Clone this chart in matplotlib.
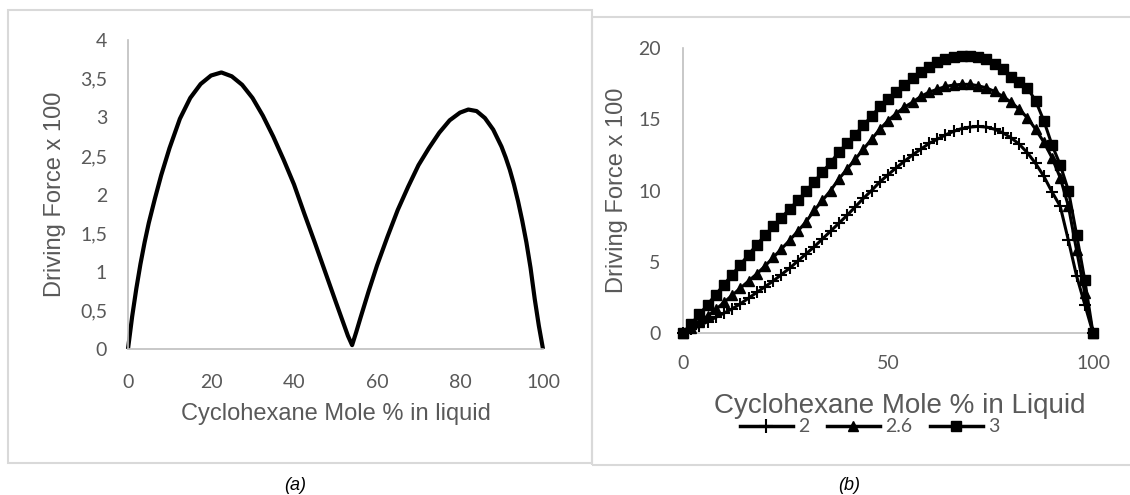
import matplotlib.pyplot as plt
from matplotlib.patches import Rectangle
from matplotlib.lines import Line2D

# panel (a) - single driving force curve
xa = [0, 1, 2, 3, 4, 5, 6.5, 8, 10, 12.5, 15, 17.5, 20, 22.5, 25, 27.5, 30, 32.5, 35,
      37.5, 40, 42.5, 45, 47.5, 50, 52, 53, 54, 55, 56, 58, 60, 62.5, 65, 67.5, 70,
      72.5, 75, 77.5, 80, 82, 84, 86, 88, 90, 91, 92, 93, 94, 95, 96, 97, 98, 99, 100]
ya = [0, 0.42, 0.78, 1.1, 1.38, 1.63, 1.95, 2.25, 2.6, 2.98, 3.25, 3.43, 3.54, 3.58, 3.53,
      3.42, 3.25, 3.02, 2.75, 2.45, 2.13, 1.75, 1.38, 1.0, 0.62, 0.32, 0.17, 0.05, 0.22,
      0.4, 0.75, 1.08, 1.45, 1.8, 2.1, 2.38, 2.6, 2.8, 2.96, 3.06, 3.1, 3.08, 2.99, 2.84,
      2.62, 2.48, 2.32, 2.13, 1.91, 1.66, 1.38, 1.05, 0.65, 0.3, 0]

# panel (b) - three series
xb = list(range(0, 101, 2))
y_2 = [0, 0.25, 0.5, 0.8, 1.1, 1.4, 1.7, 2.05, 2.45, 2.85, 3.25, 3.65, 4.1, 4.55, 5.05,
       5.55, 6.05, 6.6, 7.15, 7.7, 8.25, 8.85, 9.45, 10.0, 10.6, 11.1, 11.6, 12.05, 12.5,
       12.9, 13.3, 13.6, 13.9, 14.15, 14.35, 14.45, 14.5, 14.45, 14.3, 14.05, 13.7, 13.25,
       12.65, 11.9, 11.0, 9.9, 8.9, 6.5, 4.0, 2.0, 0]
y_26 = [0, 0.35, 0.75, 1.2, 1.65, 2.15, 2.65, 3.15, 3.65, 4.15, 4.7, 5.3, 5.9, 6.5, 7.15,
        7.8, 8.6, 9.3, 10.0, 10.8, 11.5, 12.2, 12.9, 13.6, 14.3, 14.9, 15.4, 15.85, 16.2,
        16.6, 16.9, 17.1, 17.3, 17.4, 17.45, 17.45, 17.35, 17.2, 16.95, 16.6, 16.2, 15.7,
        15.1, 14.3, 13.4, 12.3, 10.9, 8.9, 5.8, 2.8, 0]
y_3 = [0, 0.65, 1.3, 2.0, 2.7, 3.4, 4.1, 4.8, 5.5, 6.2, 6.85, 7.5, 8.1, 8.7, 9.3, 9.95,
       10.6, 11.3, 11.95, 12.7, 13.3, 13.9, 14.6, 15.2, 15.9, 16.4, 16.9, 17.4, 17.9, 18.3,
       18.7, 19.0, 19.2, 19.35, 19.45, 19.45, 19.4, 19.2, 18.9, 18.5, 18.0, 17.6, 17.2,
       16.3, 14.9, 13.2, 11.8, 10.0, 6.9, 3.7, 0]
etiquetas = ["2", "2.6", "3"]

gris = "#595959"
eje = "#BFBFBF"
W, H = 1130, 495

fig = plt.figure(figsize=(W / 100, H / 100), dpi=100)

# marcos de cada panel
fig.patches.append(Rectangle((8 / W, 1 - 463 / H), 584 / W, 453 / H, transform=fig.transFigure,
                             fill=False, edgecolor="#D9D9D9", lw=1.5))
fig.patches.append(Rectangle((592 / W, 1 - 465 / H), 545 / W, 448 / H, transform=fig.transFigure,
                             fill=False, edgecolor="#D9D9D9", lw=1.5))


def estilo(ax):
    for s in ["top", "right"]:
        ax.spines[s].set_visible(False)
    for s in ["left", "bottom"]:
        ax.spines[s].set_color(eje)
        ax.spines[s].set_linewidth(1.2)
    ax.tick_params(length=0, labelcolor=gris, labelsize=14)
    for t in ax.get_xticklabels() + ax.get_yticklabels():
        t.set_fontfamily("Lato")


def texto(x, y, s, size, **kw):
    fig.text(x / W, 1 - y / H, s, color=gris, fontsize=size, fontfamily="Liberation Sans",
             ha="center", **kw)


ax1 = fig.add_axes([128 / W, 1 - 349 / H, 415 / W, 309 / H])
ax1.plot(xa, ya, color="black", lw=3, clip_on=False, solid_capstyle="butt")
ax1.set_xlim(0, 100)
ax1.set_ylim(0, 4)
ax1.set_xticks(range(0, 101, 20))
ax1.set_yticks([i * 0.5 for i in range(9)])
ax1.set_yticklabels([("%g" % (i * 0.5)).replace(".", ",") for i in range(9)])
estilo(ax1)
ax1.tick_params(axis="x", pad=18)
ax1.tick_params(axis="y", pad=15)
texto(55, 194.5, "Driving Force x 100", 17, rotation=90, va="center")
texto(335.5, 420, "Cyclohexane Mole % in liquid", 17, va="baseline")

ax2 = fig.add_axes([683 / W, 1 - 333 / H, 410 / W, 285 / H])
ax2.plot(xb, y_2, color="black", lw=2.2, marker="+", ms=9, mew=1.5, clip_on=False, zorder=3)
ax2.plot(xb, y_26, color="black", lw=2.2, marker="^", ms=6.5, clip_on=False, zorder=3)
ax2.plot(xb, y_3, color="black", lw=2.2, marker="s", ms=7, clip_on=False, zorder=3)
ax2.set_xlim(0, 100)
ax2.set_ylim(0, 20)
ax2.set_xticks([0, 50, 100])
ax2.set_yticks([0, 5, 10, 15, 20])
estilo(ax2)
ax2.tick_params(axis="x", pad=16)
ax2.tick_params(axis="y", pad=16)
texto(617, 190.5, "Driving Force x 100", 17, rotation=90, va="center")
texto(900, 413, "Cyclohexane Mole % in Liquid", 20, va="baseline")

manijas = [Line2D([], [], color="black", lw=2.5, marker="+", ms=10, mew=1.5),
           Line2D([], [], color="black", lw=2.5, marker="^", ms=7),
           Line2D([], [], color="black", lw=2.5, marker="s", ms=7.5)]
leg = fig.legend(manijas, etiquetas, loc="center", bbox_to_anchor=(870 / W, 1 - 427 / H), ncol=3,
                 frameon=False, handlelength=2.7, handletextpad=0.3, columnspacing=0.9,
                 borderpad=0, prop={"family": "Lato", "size": 14})
for t in leg.get_texts():
    t.set_color(gris)

fig.text(295 / W, 1 - 485 / H, "(a)", style="italic", fontsize=13, ha="center", va="center",
         fontfamily="Liberation Sans")
fig.text(849 / W, 1 - 485 / H, "(b)", style="italic", fontsize=13, ha="center", va="center",
         fontfamily="Liberation Sans")

fig.savefig("out.png", dpi=100)
